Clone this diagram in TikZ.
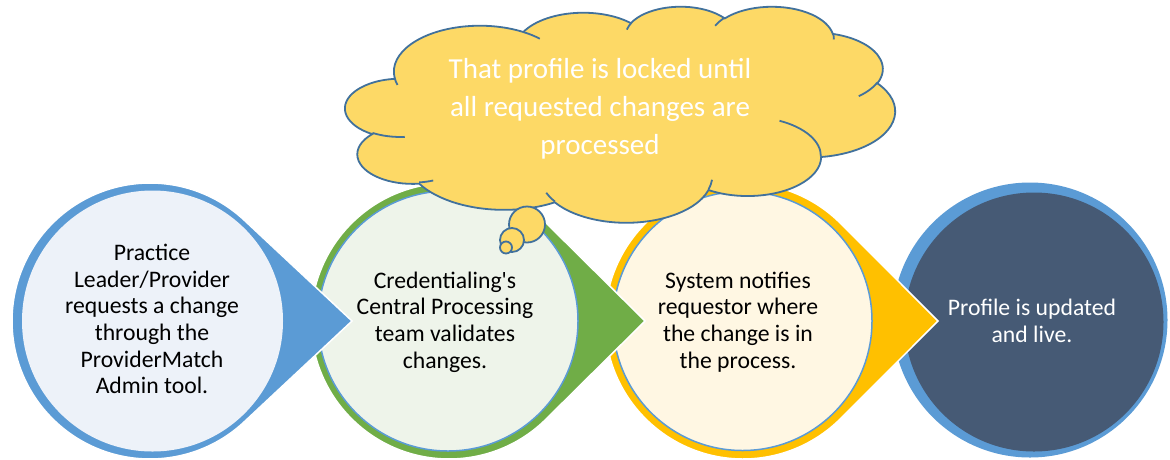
\documentclass[tikz,border=0pt]{standalone}
\usepackage{fontspec}
\setmainfont{Carlito}
\usetikzlibrary{calc}
\definecolor{accblue}{HTML}{5B9BD5}
\definecolor{accgreen}{HTML}{70AD47}
\definecolor{accgold}{HTML}{FFC000}
\definecolor{fillblue}{HTML}{EDF2F9}
\definecolor{fillgreen}{HTML}{EEF4EA}
\definecolor{fillgold}{HTML}{FFF7E3}
\definecolor{darkslate}{HTML}{465A75}
\definecolor{cloudfill}{HTML}{FDD966}
\definecolor{cloudline}{HTML}{41719C}
\newcommand\cW{550}
\newcommand\cH{216}
\newcommand\cX{345}
\newcommand\cY{6}
% DrawingML-style arcTo: #1 id, #2 wR, #3 hR (in 1/432 of box), #4 start angle, #5 sweep (deg)
\newcommand\mkarc[5]{%
  \pgfmathsetmacro\rxtmp{#2/432*\cW}%
  \pgfmathsetmacro\rytmp{#3/432*\cH}%
  \pgfmathsetmacro\tstmp{atan2(#2*sin(#4),#3*cos(#4))}%
  \pgfmathsetmacro\tetmp{atan2(#2*sin(#4+#5),#3*cos(#4+#5))}%
  \pgfmathsetmacro\tetmp{\tetmp+360*(\tetmp<\tstmp)}%
  \pgfmathsetmacro\tsneg{-\tstmp}%
  \pgfmathsetmacro\teneg{-\tetmp}%
  \expandafter\xdef\csname crx#1\endcsname{\rxtmp}%
  \expandafter\xdef\csname cry#1\endcsname{\rytmp}%
  \expandafter\xdef\csname cst#1\endcsname{\tsneg}%
  \expandafter\xdef\csname cen#1\endcsname{\teneg}%
}
\newcommand\carc[1]{arc[start angle=\csname cst#1\endcsname, end angle=\csname cen#1\endcsname, x radius=\csname crx#1\endcsname pt, y radius=\csname cry#1\endcsname pt]}
\newcommand\cpt[2]{({\cX+#1/432*\cW},{\cY+#2/432*\cH})}
\tikzset{
  steptext/.style={align=center, font=\fontsize{23.7}{26.7}\selectfont, text=black, inner sep=0pt},
  innerdisc/.style={circle, minimum size=#1, inner sep=0pt},
  cloudstyle/.style={fill=cloudfill, draw=cloudline, line width=1.8pt},
  tearstyle/.style={fill=#1, draw=white, line width=1.5pt}
}
\begin{document}
\begin{tikzpicture}[x=1pt,y=-1pt]
\useasboundingbox (0,0) rectangle (1170,459);
\fill[white] (0,0) rectangle (1170,459);
% arcs of the cloud
\mkarc{A1}{67.53}{91.90}{-190.48748}{123.78053}
\mkarc{A2}{53.33}{72.67}{-144.10238}{89.94523}
\mkarc{A3}{43.65}{59.45}{-145.80792}{99.72302}
\mkarc{A4}{48.57}{65.95}{-130.98607}{117.24173}
\mkarc{A5}{53.33}{72.73}{-78.70888}{109.02692}
\mkarc{A6}{67.75}{92.20}{-46.26725}{130.269}
\mkarc{A7}{57.85}{78.67}{0.62502}{114.03333}
\mkarc{A8}{67.52}{92.15}{22.4516}{115.17255}
\mkarc{A9}{77.20}{105.43}{66.24263}{75.23068}
\mkarc{A10}{43.60}{59.18}{-274.94208}{146.73557}
\mkarc{A11}{43.45}{59.45}{-246.8285}{152.51885}
\mkarc{Ia}{43.45}{59.45}{86.742}{26.4295}
\mkarc{Ib}{43.60}{59.18}{73.61047}{11.44747}
\mkarc{Ic}{67.52}{92.15}{137.62415}{14.0811}
\mkarc{Id}{67.52}{92.15}{6.45327}{15.99835}
\mkarc{Ie}{57.85}{78.67}{-70.29235}{70.91737}
\mkarc{If}{53.33}{72.73}{30.31803}{27.7515}
\mkarc{Ig}{48.57}{65.95}{-13.74433}{14.8589}
\mkarc{Ih}{48.57}{65.95}{-149.18145}{18.19537}
\mkarc{Ii}{43.65}{59.45}{-163.49427}{17.68635}
\mkarc{Ij}{67.53}{91.90}{-66.70695}{12.31935}
\mkarc{Ik}{67.53}{91.90}{157.65435}{11.85817}

% step 4
\node[innerdisc=275pt, fill=accblue] (o4) at (1030,320) {};
\node[innerdisc=259pt, fill=darkslate] (s4) at (1034,322) {};
% step 3
\coordinate (c3) at (743,321);
\coordinate (t3) at (938,321);
\fill[tearstyle=accgold] (t3) -- ($(c3)+(44.95:138pt)$) arc[start angle=44.95, end angle=315.05, radius=138pt] -- cycle;
\node[innerdisc=259pt, fill=fillgold, draw=accblue, line width=1.5pt] (s3) at (742.5,321) {};
% step 2
\coordinate (c2) at (449,321);
\coordinate (t2) at (645,321);
\fill[tearstyle=accgreen] (t2) -- ($(c2)+(45.25:138pt)$) arc[start angle=45.25, end angle=314.75, radius=138pt] -- cycle;
\node[innerdisc=260pt, fill=fillgreen, draw=accblue, line width=1.5pt] (s2) at (448,321) {};
% step 1
\coordinate (c1) at (150,321);
\coordinate (t1) at (352,321);
\fill[tearstyle=accblue] (t1) -- ($(c1)+(46.9:138pt)$) arc[start angle=46.9, end angle=313.1, radius=138pt] -- cycle;
\node[innerdisc=261pt, fill=fillblue] (s1) at (152.5,321) {};

% texts
\node[steptext] (l1) at (152,319) {Practice\\Leader/Provider\\requests a change\\through the\\ProviderMatch\\Admin tool.};
\node[steptext] (l2) at (445,322) {Credentialing\textquotesingle s\\Central Processing\\team validates\\changes.};
\node[steptext] (l3) at (738,322) {System notifies\\requestor where\\the change is in\\the process.};
\node[steptext, text=white] (l4) at (1032,321) {Profile is updated\\and live.};

% cloud callout
\filldraw[cloudstyle] \cpt{39.00}{143.70} \carc{A1} \carc{A2} \carc{A3} \carc{A4} \carc{A5} \carc{A6} \carc{A7} \carc{A8} \carc{A9} \carc{A10} \carc{A11} -- cycle;
\draw[draw=cloudline, line width=1.8pt]
  \cpt{46.93}{261.77} \carc{Ia}
  \cpt{69.28}{348.99} \carc{Ib}
  \cpt{164.78}{390.90} \carc{Ic}
  \cpt{288.27}{347.51} \carc{Id}
  \cpt{341.29}{229.54} \carc{Ie}
  \cpt{417.98}{153.54} \carc{If}
  \cpt{383.24}{54.26} \carc{Ig}
  \cpt{290.78}{39.52} \carc{Ih}
  \cpt{221.41}{47.20} \carc{Ii}
  \cpt{140.00}{51.92} \carc{Ij}
  \cpt{41.27}{157.89} \carc{Ik};
\node[circle, minimum size=36pt, inner sep=0pt, cloudstyle] (b1) at (527,224.5) {};
\node[circle, minimum size=24pt, inner sep=0pt, cloudstyle] (b2) at (512,240) {};
\node[circle, minimum size=12pt, inner sep=0pt, cloudstyle] (b3) at (506,247.5) {};
\node[align=center, font=\fontsize{29}{38}\selectfont, text=white, inner sep=0pt] (ctext) at (600,109) {That profile is locked until\\all requested changes are\\processed};
\end{tikzpicture}
\end{document}
